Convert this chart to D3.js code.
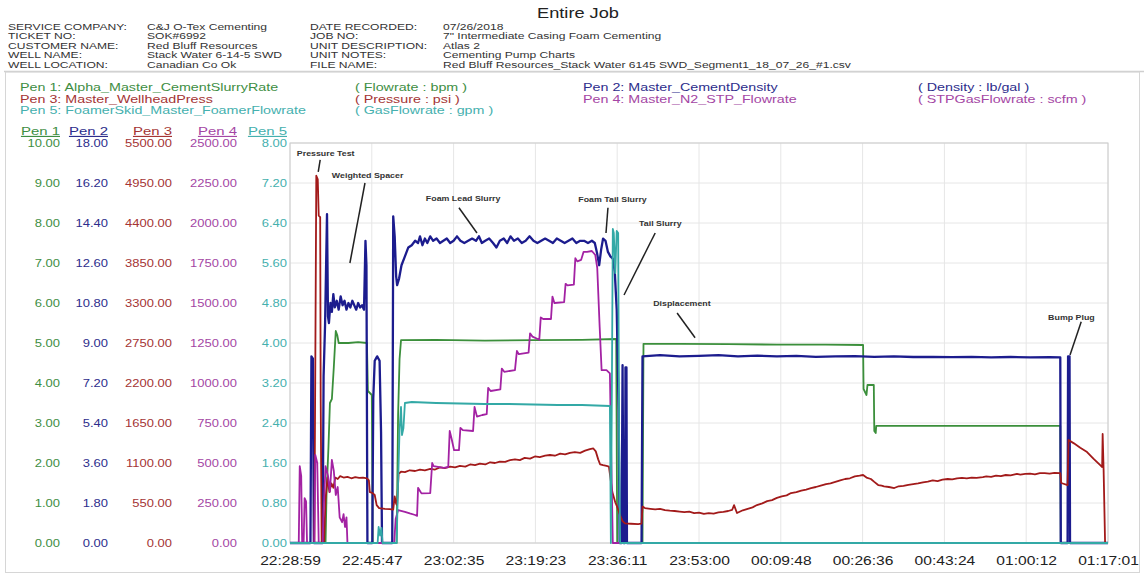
<!DOCTYPE html>
<html>
<head>
<meta charset="utf-8">
<script src="https://cdn.jsdelivr.net/npm/d3@7"></script>
<style>
  body { margin: 0; background: #fff; }
  svg { display: block; font-family: Arial, "Liberation Sans", sans-serif; }
</style>
</head>
<body>
<svg id="chart" width="1144" height="575"></svg>
<script>
// time labels on the bottom axis, one every 16.8 minutes
const timeLabels = ['22:28:59', '22:45:47', '23:02:35', '23:19:23', '23:36:11', '23:53:00',
  '00:09:48', '00:26:36', '00:43:24', '01:00:12', '01:17:01'];
const totalMinutes = 168;

const headerLeft = [
  ['SERVICE COMPANY:', 'C&J O-Tex Cementing'],
  ['TICKET NO:', 'SOK#6992'],
  ['CUSTOMER NAME:', 'Red Bluff Resources'],
  ['WELL NAME:', 'Stack Water 6-14-5 SWD'],
  ['WELL LOCATION:', 'Canadian Co Ok']
];
const headerRight = [
  ['DATE RECORDED:', '07/26/2018'],
  ['JOB NO:', '7" Intermediate Casing Foam Cementing'],
  ['UNIT DESCRIPTION:', 'Atlas 2'],
  ['UNIT NOTES:', 'Cementing Pump Charts'],
  ['FILE NAME:', 'Red Bluff Resources_Stack Water 6145 SWD_Segment1_18_07_26_#1.csv']
];

const penNames = ['Alpha_Master_CementSlurryRate', 'Master_CementDensity', 'Master_WellheadPress',
  'Master_N2_STP_Flowrate', 'FoamerSkid_Master_FoamerFlowrate'];
const penUnits = ['( Flowrate : bpm )', '( Density : lb/gal )', '( Pressure : psi )',
  '( STPGasFlowrate : scfm )', '( GasFlowrate : gpm )'];
const penMax = [10, 18, 5500, 2500, 8];

// [minutes since 22:28:59, value]
const slurryRate = [[0,0],[7.3,0],[7.5,1.2],[7.9,2.4],[8.2,3.5],[8.6,3.6],[9.0,4.4],[9.4,5.3],[9.7,5.2],
  [10.0,5.0],[12,5.0],[14,5.02],[15.8,5.0],[16.0,3.8],[16.8,3.7],[17.0,0],[21.9,0],[22.2,3.2],[22.5,4.6],
  [22.8,5.07],[30,5.08],[40,5.06],[50,5.07],[60,5.08],[67.0,5.1],[67.2,0],[72.4,0],[72.6,4.98],[80,4.98],
  [90,4.97],[100,4.96],[110,4.96],[117.7,4.95],[117.8,3.85],[118.4,3.7],[118.6,3.95],[119.9,3.95],
  [120.0,2.8],[120.3,2.75],[120.4,2.93],[130,2.93],[140,2.93],[158.2,2.93],[158.3,0],[168,0]];

const density = [[0,0],[4.2,0],[4.4,8.4],[4.7,8.3],[4.9,0],[6.7,0],[6.9,7.5],[7.2,9.8],[7.6,14.8],
  [7.8,10.2],[8.0,9.9],[8.3,10.8],[8.6,10.4],[8.9,11.2],[9.2,10.6],[9.6,10.9],[10.0,10.5],[10.4,11.1],
  [10.8,10.7],[11.2,10.9],[11.6,10.5],[12.0,10.8],[12.4,10.6],[12.8,10.9],[13.2,10.7],[13.6,10.5],
  [14.0,10.8],[14.4,10.6],[14.8,10.7],[15.2,10.5],[15.5,13.6],[15.7,12.5],[15.9,0],[16.9,0],[17.1,6.5],
  [17.4,8.2],[17.9,8.4],[18.4,8.2],[18.7,5.0],[18.9,0],[21.0,0],[21.2,14.7],[21.5,13.8],[21.8,12.0],
  [22.0,11.6],[22.4,11.9],[22.9,12.5],[23.6,12.9],[24.3,13.3],[25.0,13.4],[25.7,13.6],[26.3,13.5],
  [26.7,13.8],[27.2,13.4],[27.7,13.7],[28.2,13.5],[28.8,13.8],[29.4,13.6],[30.1,13.7],[30.8,13.5],
  [31.5,13.6],[32.2,13.7],[32.9,13.5],[33.6,13.6],[34.3,13.8],[35.0,13.6],[35.8,13.5],[36.6,13.6],
  [37.4,13.7],[38.2,13.6],[38.8,13.8],[39.4,13.5],[40.1,13.6],[40.9,13.7],[41.7,13.5],[42.4,13.3],
  [43.1,13.6],[43.9,13.7],[44.6,13.5],[45.3,13.8],[46.0,13.6],[46.8,13.7],[47.6,13.5],[48.4,13.6],
  [49.2,13.8],[50.0,13.6],[50.8,13.5],[51.6,13.6],[52.4,13.7],[53.2,13.6],[54.0,13.5],[54.8,13.7],
  [55.6,13.6],[56.4,13.5],[57.2,13.6],[58.0,13.7],[58.8,13.5],[59.6,13.6],[60.4,13.6],[61.2,13.5],
  [62.0,13.6],[62.6,13.5],[63.1,13.0],[63.5,12.5],[63.9,13.2],[64.3,13.7],[64.8,13.6],[65.3,13.1],
  [65.8,12.9],[66.3,12.8],[66.7,12.2],[67.1,10.5],[67.5,6.0],[67.7,0],[68.1,0],[68.3,8.0],[68.5,0],
  [68.8,0],[68.9,7.9],[69.1,7.9],[69.2,0],[72.2,0],[72.4,8.4],[76,8.45],[80,8.4],[84,8.42],[88,8.45],
  [92,8.4],[96,8.43],[100,8.4],[104,8.42],[108,8.38],[112,8.4],[116,8.41],[120,8.38],[124,8.4],
  [128,8.37],[132,8.38],[136,8.36],[140,8.38],[144,8.35],[148,8.37],[152,8.35],[156,8.36],[158.2,8.35],
  [158.3,0],[159.7,0],[159.8,8.4],[160.1,8.4],[160.2,0],[168,0]];

const wellheadPress = [[0,0],[5.0,0],[5.2,2500],[5.4,5050],[5.7,5000],[5.9,4500],[6.2,4480],[6.3,2000],
  [6.5,0],[7.0,0],[7.3,600],[7.7,900],[8.1,700],[8.5,820],[8.9,760],[9.3,900],[9.8,880],[10.3,920],
  [11.0,900],[11.8,910],[12.6,890],[13.4,905],[14.2,895],[15.0,900],[15.8,890],[16.2,860],[16.4,700],
  [16.9,690],[17.4,660],[17.8,520],[18.3,480],[19.5,470],[20.5,465],[21.2,460],[21.5,640],[21.8,540],
  [22.0,520],[22.3,950],[22.8,980],[23.6,975],[24.6,1000],[25.7,990],[26.7,1010],[27.7,1000],
  [28.8,1020],[29.8,1010],[30.8,1040],[31.8,1030],[32.9,1050],[33.9,1040],[34.9,1060],[36.0,1050],
  [37.0,1080],[38.0,1070],[39.0,1090],[40.1,1080],[41.1,1110],[42.1,1100],[43.1,1120],[44.2,1115],
  [45.2,1140],[46.2,1150],[47.2,1140],[48.2,1170],[49.3,1160],[50.3,1190],[51.3,1180],[52.4,1200],
  [53.4,1210],[54.4,1200],[55.5,1230],[56.5,1220],[57.5,1240],[58.5,1250],[59.6,1240],[60.6,1270],
  [61.6,1290],[62.3,1300],[62.8,1260],[63.3,1150],[63.7,1080],[64.3,1070],[65.0,1060],[65.5,1050],
  [65.8,900],[66.2,700],[66.8,560],[67.3,480],[67.8,380],[68.3,300],[68.8,270],[70,265],[71.5,260],
  [72.2,265],[72.4,500],[72.9,480],[74,470],[75,462],[76,470],[77,452],[78,445],[79,440],[80,432],
  [81,425],[82,430],[83,412],[84,418],[85,400],[86,410],[87,405],[88,420],[89,428],[90,440],[90.8,454],
  [91.2,520],[91.8,412],[93,450],[94,470],[95,490],[95.9,522],[97,545],[98,575],[99,590],[100,620],
  [101,640],[102,655],[102.9,687],[104,700],[105,720],[106,735],[107,755],[108,770],[109,790],
  [110.1,811],[111,820],[112,840],[113,860],[114,880],[115,890],[116,915],[117,925],[117.7,935],
  [118.4,900],[119.3,880],[120,840],[120.8,797],[121.5,790],[122,780],[123,770],[124.1,756],[125,780],
  [126,785],[127,800],[128,811],[129,820],[130,835],[131,845],[132,860],[133,850],[134,870],
  [135.1,880],[136,875],[137,890],[138,895],[139,890],[140,900],[141,895],[142.3,907],[143,915],
  [144,910],[145,925],[146,920],[147,935],[148,930],[149.3,949],[150,940],[151,950],[152,955],
  [153,945],[154,960],[155,960],[156,955],[157,965],[158.2,962],[158.4,825],[159.7,797],[159.9,1416],
  [161,1370],[162.3,1310],[163.7,1251],[165,1160],[166.4,1070],[166.8,1045],[166.9,1499],[167.1,1000],
  [167.4,0],[168,0]];

const n2Rate = [[0,0],[1.8,0],[2.0,480],[2.3,420],[2.5,0],[2.8,0],[3.0,280],[3.3,260],[3.5,0],[5.0,0],
  [5.2,550],[5.6,500],[5.9,0],[6.7,0],[6.9,200],[7.3,480],[7.8,420],[8.2,320],[8.6,520],[9.0,450],
  [9.4,300],[9.8,350],[10.2,160],[10.7,130],[11.0,180],[11.3,100],[11.6,160],[11.8,0],[21.4,0],
  [21.7,150],[22.2,205],[23.6,195],[24.6,185],[25.7,175],[26.1,170],[26.3,345],[26.6,330],[27.0,310],
  [28.8,312],[29.2,500],[29.5,480],[31.6,470],[32.5,475],[32.8,700],[33.2,650],[33.7,580],[34.7,580],
  [35.0,720],[35.5,705],[37.6,700],[37.9,850],[38.4,790],[39.5,800],[40.4,805],[40.7,970],[41.2,950],
  [43.2,960],[43.5,1090],[44.0,1070],[46.2,1080],[46.6,1200],[47.0,1180],[49.0,1190],[49.3,1310],
  [49.8,1290],[51.2,1270],[51.5,1410],[52.0,1400],[53.6,1400],[53.9,1540],[54.3,1500],[56.3,1505],
  [56.6,1620],[57.0,1610],[58.3,1615],[58.6,1780],[59.0,1760],[59.8,1770],[60.3,1820],[61.0,1820],
  [62.0,1825],[62.7,1800],[63.1,1720],[63.6,1350],[64.0,1080],[65.0,1080],[65.7,1060],[66.0,500],
  [66.3,0],[168,0]];

const foamerRate = [[0,0],[18.0,0],[18.2,0.32],[18.5,0.15],[18.8,0.3],[19.0,0],[21.9,0],[22.2,1.2],
  [22.5,2.26],[22.8,2.72],[23.0,2.16],[23.3,2.3],[23.6,2.8],[25,2.82],[30,2.8],[35,2.79],[40,2.78],
  [45,2.78],[50,2.77],[55,2.76],[60,2.76],[65.7,2.74],[65.9,0],[66.1,3.0],[66.3,6.28],[66.5,6.2],
  [66.8,5.4],[67.1,6.24],[67.4,6.2],[67.6,2.0],[67.8,0],[168,0]];

// annotations: [text, minute, pen-1 value of text, pointer from, pointer to]
const notes = [
  ['Pressure Test', 1.4, 9.68, [6.2, 9.58], [5.8, 9.28]],
  ['Weighted Spacer', 8.6, 9.13, [15.4, 9.0], [12.3, 7.0]],
  ['Foam Lead Slurry', 27.9, 8.55, [34.7, 8.38], [38.4, 7.75]],
  ['Foam Tail Slurry', 59.2, 8.53, [65.3, 8.38], [64.9, 7.75]],
  ['Tail Slurry', 71.7, 7.93, [75.0, 7.75], [68.6, 6.2]],
  ['Displacement', 74.6, 5.93, [79.5, 5.75], [83.2, 5.13]],
  ['Bump Plug', 155.7, 5.58, [162.5, 5.53], [160.2, 4.7]]
];

const series = [slurryRate, density, wellheadPress, n2Rate, foamerRate];
const lineColors = ['#3b8f3b', '#1c1c8e', '#a21a1a', '#a322a3', '#33a9a6'];
const textColors = ['#3e8e43', '#2d2d8c', '#a43434', '#a446a4', '#45b0ae'];
const axisX = [60, 108, 172, 237, 287];

const SX = 1.3;
const svg = d3.select('#chart');
const plot = { left: 290, right: 1108, top: 143, bottom: 543 };

function label(x, y, str, size, fill, anchor, weight) {
  return svg.append('text')
    .attr('transform', `translate(${x},${y}) scale(${SX},1)`)
    .attr('font-size', size)
    .attr('fill', fill)
    .attr('text-anchor', anchor || 'start')
    .attr('font-weight', weight || 'normal')
    .text(str);
}

svg.append('rect').attr('width', 1144).attr('height', 575).attr('fill', '#fff');

// header
label(578, 18, 'Entire Job', 14, '#222', 'middle');
headerLeft.forEach((r, i) => {
  label(8, 29.5 + i * 9.5, r[0], 9.3, '#333');
  label(147, 29.5 + i * 9.5, r[1], 9.3, '#333');
});
headerRight.forEach((r, i) => {
  label(310, 29.5 + i * 9.5, r[0], 9.3, '#333');
  label(443, 29.5 + i * 9.5, r[1], 9.3, '#333');
});

// frame
svg.append('line').attr('x1', 4).attr('x2', 1144).attr('y1', 71.5).attr('y2', 71.5)
  .attr('stroke', '#cfcfcf').attr('stroke-width', 1.5);
svg.append('rect').attr('x', 5.5).attr('y', 72).attr('width', 1134).attr('height', 500.5)
  .attr('fill', 'none').attr('stroke', '#d6d6d6');

// legend
const legendPos = [[20, 91], [583, 91], [20, 102.5], [583, 102.5], [20, 114]];
legendPos.forEach((p, i) => {
  label(p[0], p[1], `Pen ${i + 1}: ${penNames[i]}`, 11, textColors[i]);
  label(p[0] + 335, p[1], penUnits[i], 11, textColors[i]);
});

const x = d3.scaleLinear().domain([0, totalMinutes]).range([plot.left, plot.right]);
const tickMinutes = timeLabels.map((d, i) => i * totalMinutes / 10);

// grid
const grid = svg.append('g');
d3.range(11).forEach(k => {
  const yy = plot.top + k * (plot.bottom - plot.top) / 10;
  grid.append('line').attr('x1', plot.left).attr('x2', plot.right).attr('y1', yy).attr('y2', yy)
    .attr('stroke', '#e6e6e6');
});
tickMinutes.forEach(m => {
  grid.append('line').attr('x1', x(m)).attr('x2', x(m)).attr('y1', plot.top).attr('y2', plot.bottom)
    .attr('stroke', '#e6e6e6');
});
grid.append('rect').attr('x', plot.left).attr('y', plot.top)
  .attr('width', plot.right - plot.left).attr('height', plot.bottom - plot.top)
  .attr('fill', 'none').attr('stroke', '#cccccc');

// left axes, one per pen
const yScales = penMax.map(m => d3.scaleLinear().domain([0, m]).range([plot.bottom, plot.top]));
yScales.forEach((s, i) => {
  const ax = d3.axisLeft(s)
    .tickValues(d3.range(11).map(k => k * penMax[i] / 10))
    .tickFormat(d3.format('.2f'))
    .tickSize(0).tickPadding(0);
  const g = svg.append('g').attr('transform', `translate(${axisX[i]},0)`).call(ax)
    .attr('font-family', null).attr('font-size', null);
  g.select('.domain').remove();
  g.selectAll('text').attr('fill', textColors[i]).attr('font-size', 10)
    .attr('transform', `scale(${SX},1)`);
  label(axisX[i], 135, `Pen ${i + 1}`, 11.5, textColors[i], 'end')
    .attr('text-decoration', 'underline');
});

// bottom axis
const xAxis = d3.axisBottom(x).tickValues(tickMinutes)
  .tickFormat((d, i) => timeLabels[i]).tickSize(0).tickPadding(13.5);
const gx = svg.append('g').attr('transform', `translate(0,${plot.bottom})`).call(xAxis)
  .attr('font-family', null).attr('font-size', null);
gx.select('.domain').remove();
gx.selectAll('text').attr('fill', '#222').attr('font-size', 12).attr('transform', `scale(${SX},1)`);

// pen traces
const widths = [1.8, 2.3, 1.8, 1.8, 1.8];
series.forEach((data, i) => {
  const line = d3.line().x(d => x(d[0])).y(d => yScales[i](d[1]));
  svg.append('path').datum(data).attr('d', line)
    .attr('fill', 'none').attr('stroke', lineColors[i]).attr('stroke-width', widths[i])
    .attr('stroke-linejoin', 'round');
});

// annotations
const yNote = yScales[0];
notes.forEach(n => {
  label(x(n[1]), yNote(n[2]), n[0], 6.8, '#333', 'start', 'bold');
  svg.append('line')
    .attr('x1', x(n[3][0])).attr('y1', yNote(n[3][1]))
    .attr('x2', x(n[4][0])).attr('y2', yNote(n[4][1]))
    .attr('stroke', '#222').attr('stroke-width', 1.5);
});
</script>
</body>
</html>
